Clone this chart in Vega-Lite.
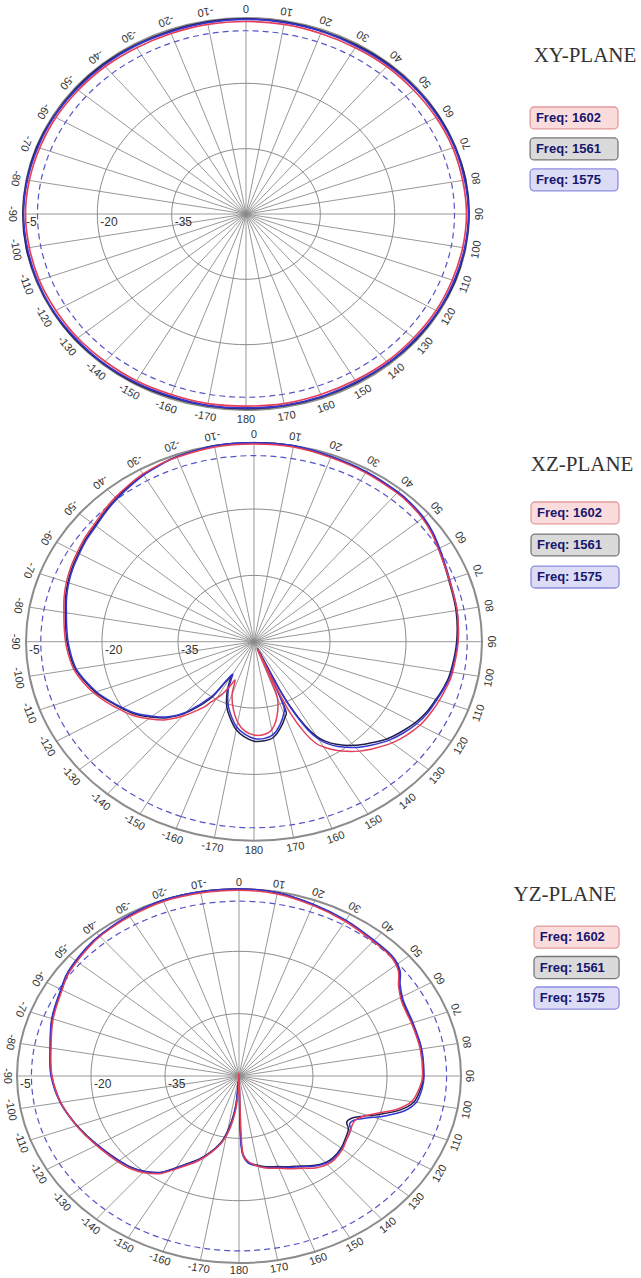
{
"$schema": "https://vega.github.io/schema/vega-lite/v6.json",
"padding": 0, "spacing": 0, "bounds": "flush", "background": "white",
"config": {"view": {"stroke": null}},
"datasets": {
"ang": [{"a":-170},{"a":-160},{"a":-150},{"a":-140},{"a":-130},{"a":-120},{"a":-110},{"a":-100},{"a":-90},{"a":-80},{"a":-70},{"a":-60},{"a":-50},{"a":-40},{"a":-30},{"a":-20},{"a":-10},{"a":0},{"a":10},{"a":20},{"a":30},{"a":40},{"a":50},{"a":60},{"a":70},{"a":80},{"a":90},{"a":100},{"a":110},{"a":120},{"a":130},{"a":140},{"a":150},{"a":160},{"a":170},{"a":180}],
"rl": [{"t":"-5","d":-5},{"t":"-20","d":-20},{"t":"-35","d":-35}],
"leg": [{"f":"1602","t":"Freq: 1602","k":0},{"f":"1561","t":"Freq: 1561","k":1},{"f":"1575","t":"Freq: 1575","k":2}],
"curves": [
{"p":"XY","f":"1561","a":-170,"g":-5.3},{"p":"XY","f":"1561","a":-160,"g":-5.3},{"p":"XY","f":"1561","a":-150,"g":-5.2},{"p":"XY","f":"1561","a":-140,"g":-5.2},{"p":"XY","f":"1561","a":-130,"g":-5.1},{"p":"XY","f":"1561","a":-120,"g":-5.1},{"p":"XY","f":"1561","a":-110,"g":-5.1},{"p":"XY","f":"1561","a":-100,"g":-5.0},{"p":"XY","f":"1561","a":-90,"g":-5.0},{"p":"XY","f":"1561","a":-80,"g":-5.1},{"p":"XY","f":"1561","a":-70,"g":-5.1},{"p":"XY","f":"1561","a":-60,"g":-5.2},{"p":"XY","f":"1561","a":-50,"g":-5.2},{"p":"XY","f":"1561","a":-40,"g":-5.2},{"p":"XY","f":"1561","a":-30,"g":-5.3},{"p":"XY","f":"1561","a":-20,"g":-5.3},{"p":"XY","f":"1561","a":-10,"g":-5.2},{"p":"XY","f":"1561","a":0,"g":-5.2},{"p":"XY","f":"1561","a":10,"g":-5.2},{"p":"XY","f":"1561","a":20,"g":-5.3},{"p":"XY","f":"1561","a":30,"g":-5.3},{"p":"XY","f":"1561","a":40,"g":-5.2},{"p":"XY","f":"1561","a":50,"g":-5.2},{"p":"XY","f":"1561","a":60,"g":-5.1},{"p":"XY","f":"1561","a":70,"g":-5.1},{"p":"XY","f":"1561","a":80,"g":-5.0},{"p":"XY","f":"1561","a":90,"g":-5.0},{"p":"XY","f":"1561","a":100,"g":-5.1},{"p":"XY","f":"1561","a":110,"g":-5.1},{"p":"XY","f":"1561","a":120,"g":-5.2},{"p":"XY","f":"1561","a":130,"g":-5.2},{"p":"XY","f":"1561","a":140,"g":-5.3},{"p":"XY","f":"1561","a":150,"g":-5.3},{"p":"XY","f":"1561","a":160,"g":-5.3},{"p":"XY","f":"1561","a":170,"g":-5.3},{"p":"XY","f":"1561","a":180,"g":-5.3},
{"p":"XY","f":"1575","a":-170,"g":-5.4},{"p":"XY","f":"1575","a":-160,"g":-5.5},{"p":"XY","f":"1575","a":-150,"g":-5.4},{"p":"XY","f":"1575","a":-140,"g":-5.3},{"p":"XY","f":"1575","a":-130,"g":-5.3},{"p":"XY","f":"1575","a":-120,"g":-5.2},{"p":"XY","f":"1575","a":-110,"g":-5.2},{"p":"XY","f":"1575","a":-100,"g":-5.2},{"p":"XY","f":"1575","a":-90,"g":-5.1},{"p":"XY","f":"1575","a":-80,"g":-5.2},{"p":"XY","f":"1575","a":-70,"g":-5.3},{"p":"XY","f":"1575","a":-60,"g":-5.3},{"p":"XY","f":"1575","a":-50,"g":-5.4},{"p":"XY","f":"1575","a":-40,"g":-5.4},{"p":"XY","f":"1575","a":-30,"g":-5.4},{"p":"XY","f":"1575","a":-20,"g":-5.5},{"p":"XY","f":"1575","a":-10,"g":-5.4},{"p":"XY","f":"1575","a":0,"g":-5.3},{"p":"XY","f":"1575","a":10,"g":-5.4},{"p":"XY","f":"1575","a":20,"g":-5.4},{"p":"XY","f":"1575","a":30,"g":-5.5},{"p":"XY","f":"1575","a":40,"g":-5.4},{"p":"XY","f":"1575","a":50,"g":-5.3},{"p":"XY","f":"1575","a":60,"g":-5.3},{"p":"XY","f":"1575","a":70,"g":-5.2},{"p":"XY","f":"1575","a":80,"g":-5.2},{"p":"XY","f":"1575","a":90,"g":-5.1},{"p":"XY","f":"1575","a":100,"g":-5.2},{"p":"XY","f":"1575","a":110,"g":-5.3},{"p":"XY","f":"1575","a":120,"g":-5.3},{"p":"XY","f":"1575","a":130,"g":-5.4},{"p":"XY","f":"1575","a":140,"g":-5.4},{"p":"XY","f":"1575","a":150,"g":-5.5},{"p":"XY","f":"1575","a":160,"g":-5.4},{"p":"XY","f":"1575","a":170,"g":-5.4},{"p":"XY","f":"1575","a":180,"g":-5.5},
{"p":"XY","f":"1602","a":-170,"g":-5.8},{"p":"XY","f":"1602","a":-160,"g":-5.9},{"p":"XY","f":"1602","a":-150,"g":-5.8},{"p":"XY","f":"1602","a":-140,"g":-5.8},{"p":"XY","f":"1602","a":-130,"g":-5.7},{"p":"XY","f":"1602","a":-120,"g":-5.7},{"p":"XY","f":"1602","a":-110,"g":-5.6},{"p":"XY","f":"1602","a":-100,"g":-5.6},{"p":"XY","f":"1602","a":-90,"g":-5.5},{"p":"XY","f":"1602","a":-80,"g":-5.6},{"p":"XY","f":"1602","a":-70,"g":-5.7},{"p":"XY","f":"1602","a":-60,"g":-5.7},{"p":"XY","f":"1602","a":-50,"g":-5.8},{"p":"XY","f":"1602","a":-40,"g":-5.8},{"p":"XY","f":"1602","a":-30,"g":-5.9},{"p":"XY","f":"1602","a":-20,"g":-5.9},{"p":"XY","f":"1602","a":-10,"g":-5.8},{"p":"XY","f":"1602","a":0,"g":-5.8},{"p":"XY","f":"1602","a":10,"g":-5.8},{"p":"XY","f":"1602","a":20,"g":-5.9},{"p":"XY","f":"1602","a":30,"g":-5.9},{"p":"XY","f":"1602","a":40,"g":-5.8},{"p":"XY","f":"1602","a":50,"g":-5.8},{"p":"XY","f":"1602","a":60,"g":-5.7},{"p":"XY","f":"1602","a":70,"g":-5.6},{"p":"XY","f":"1602","a":80,"g":-5.6},{"p":"XY","f":"1602","a":90,"g":-5.5},{"p":"XY","f":"1602","a":100,"g":-5.6},{"p":"XY","f":"1602","a":110,"g":-5.7},{"p":"XY","f":"1602","a":120,"g":-5.7},{"p":"XY","f":"1602","a":130,"g":-5.8},{"p":"XY","f":"1602","a":140,"g":-5.8},{"p":"XY","f":"1602","a":150,"g":-5.9},{"p":"XY","f":"1602","a":160,"g":-5.9},{"p":"XY","f":"1602","a":170,"g":-5.8},{"p":"XY","f":"1602","a":180,"g":-5.9},
{"p":"XZ","f":"1561","a":-175,"g":-28.4},{"p":"XZ","f":"1561","a":-170,"g":-29.8},{"p":"XZ","f":"1561","a":-165,"g":-32.0},{"p":"XZ","f":"1561","a":-160,"g":-34.3},{"p":"XZ","f":"1561","a":-155,"g":-37.4},{"p":"XZ","f":"1561","a":-152,"g":-39.7},{"p":"XZ","f":"1561","a":-150,"g":-41.0},{"p":"XZ","f":"1561","a":-148,"g":-38.8},{"p":"XZ","f":"1561","a":-146,"g":-34.3},{"p":"XZ","f":"1561","a":-140,"g":-28.9},{"p":"XZ","f":"1561","a":-135,"g":-25.7},{"p":"XZ","f":"1561","a":-130,"g":-23.5},{"p":"XZ","f":"1561","a":-125,"g":-21.4},{"p":"XZ","f":"1561","a":-120,"g":-19.9},{"p":"XZ","f":"1561","a":-115,"g":-18.3},{"p":"XZ","f":"1561","a":-110,"g":-16.7},{"p":"XZ","f":"1561","a":-105,"g":-15.4},{"p":"XZ","f":"1561","a":-100,"g":-14.2},{"p":"XZ","f":"1561","a":-95,"g":-13.6},{"p":"XZ","f":"1561","a":-90,"g":-13.1},{"p":"XZ","f":"1561","a":-85,"g":-12.7},{"p":"XZ","f":"1561","a":-80,"g":-12.2},{"p":"XZ","f":"1561","a":-75,"g":-11.5},{"p":"XZ","f":"1561","a":-70,"g":-10.9},{"p":"XZ","f":"1561","a":-65,"g":-10.4},{"p":"XZ","f":"1561","a":-60,"g":-10.0},{"p":"XZ","f":"1561","a":-55,"g":-9.5},{"p":"XZ","f":"1561","a":-50,"g":-9.1},{"p":"XZ","f":"1561","a":-45,"g":-8.4},{"p":"XZ","f":"1561","a":-40,"g":-7.7},{"p":"XZ","f":"1561","a":-35,"g":-7.0},{"p":"XZ","f":"1561","a":-30,"g":-6.4},{"p":"XZ","f":"1561","a":-25,"g":-5.9},{"p":"XZ","f":"1561","a":-20,"g":-5.5},{"p":"XZ","f":"1561","a":-10,"g":-5.0},{"p":"XZ","f":"1561","a":0,"g":-5.0},{"p":"XZ","f":"1561","a":10,"g":-5.0},{"p":"XZ","f":"1561","a":20,"g":-5.5},{"p":"XZ","f":"1561","a":30,"g":-5.7},{"p":"XZ","f":"1561","a":40,"g":-5.9},{"p":"XZ","f":"1561","a":45,"g":-6.1},{"p":"XZ","f":"1561","a":50,"g":-6.4},{"p":"XZ","f":"1561","a":55,"g":-7.0},{"p":"XZ","f":"1561","a":60,"g":-7.9},{"p":"XZ","f":"1561","a":65,"g":-8.6},{"p":"XZ","f":"1561","a":70,"g":-9.1},{"p":"XZ","f":"1561","a":80,"g":-9.5},{"p":"XZ","f":"1561","a":90,"g":-10.0},{"p":"XZ","f":"1561","a":100,"g":-10.6},{"p":"XZ","f":"1561","a":105,"g":-11.1},{"p":"XZ","f":"1561","a":110,"g":-11.8},{"p":"XZ","f":"1561","a":115,"g":-12.4},{"p":"XZ","f":"1561","a":120,"g":-13.3},{"p":"XZ","f":"1561","a":125,"g":-14.5},{"p":"XZ","f":"1561","a":130,"g":-15.8},{"p":"XZ","f":"1561","a":135,"g":-17.6},{"p":"XZ","f":"1561","a":140,"g":-19.4},{"p":"XZ","f":"1561","a":145,"g":-21.7},{"p":"XZ","f":"1561","a":148,"g":-23.5},{"p":"XZ","f":"1561","a":150,"g":-25.3},{"p":"XZ","f":"1561","a":152,"g":-28.4},{"p":"XZ","f":"1561","a":154,"g":-33.8},{"p":"XZ","f":"1561","a":155,"g":-38.8},{"p":"XZ","f":"1561","a":156,"g":-48.2},{"p":"XZ","f":"1561","a":157,"g":-40.1},{"p":"XZ","f":"1561","a":158,"g":-33.4},{"p":"XZ","f":"1561","a":160,"g":-32.0},{"p":"XZ","f":"1561","a":165,"g":-29.8},{"p":"XZ","f":"1561","a":170,"g":-28.0},{"p":"XZ","f":"1561","a":175,"g":-27.5},{"p":"XZ","f":"1561","a":180,"g":-27.5},
{"p":"XZ","f":"1575","a":-175,"g":-29.0},{"p":"XZ","f":"1575","a":-170,"g":-30.4},{"p":"XZ","f":"1575","a":-165,"g":-32.6},{"p":"XZ","f":"1575","a":-160,"g":-35.0},{"p":"XZ","f":"1575","a":-155,"g":-38.0},{"p":"XZ","f":"1575","a":-152,"g":-40.5},{"p":"XZ","f":"1575","a":-150,"g":-41.5},{"p":"XZ","f":"1575","a":-148,"g":-39.5},{"p":"XZ","f":"1575","a":-146,"g":-35.0},{"p":"XZ","f":"1575","a":-140,"g":-29.3},{"p":"XZ","f":"1575","a":-135,"g":-26.0},{"p":"XZ","f":"1575","a":-130,"g":-23.8},{"p":"XZ","f":"1575","a":-125,"g":-21.7},{"p":"XZ","f":"1575","a":-120,"g":-20.1},{"p":"XZ","f":"1575","a":-115,"g":-18.5},{"p":"XZ","f":"1575","a":-110,"g":-16.9},{"p":"XZ","f":"1575","a":-105,"g":-15.6},{"p":"XZ","f":"1575","a":-100,"g":-14.4},{"p":"XZ","f":"1575","a":-95,"g":-13.8},{"p":"XZ","f":"1575","a":-90,"g":-13.3},{"p":"XZ","f":"1575","a":-85,"g":-12.9},{"p":"XZ","f":"1575","a":-80,"g":-12.4},{"p":"XZ","f":"1575","a":-75,"g":-11.7},{"p":"XZ","f":"1575","a":-70,"g":-11.1},{"p":"XZ","f":"1575","a":-65,"g":-10.6},{"p":"XZ","f":"1575","a":-60,"g":-10.2},{"p":"XZ","f":"1575","a":-55,"g":-9.7},{"p":"XZ","f":"1575","a":-50,"g":-9.3},{"p":"XZ","f":"1575","a":-45,"g":-8.6},{"p":"XZ","f":"1575","a":-40,"g":-7.9},{"p":"XZ","f":"1575","a":-35,"g":-7.2},{"p":"XZ","f":"1575","a":-30,"g":-6.5},{"p":"XZ","f":"1575","a":-25,"g":-6.0},{"p":"XZ","f":"1575","a":-20,"g":-5.5},{"p":"XZ","f":"1575","a":-10,"g":-5.0},{"p":"XZ","f":"1575","a":0,"g":-5.0},{"p":"XZ","f":"1575","a":10,"g":-5.0},{"p":"XZ","f":"1575","a":20,"g":-5.4},{"p":"XZ","f":"1575","a":30,"g":-5.6},{"p":"XZ","f":"1575","a":40,"g":-5.8},{"p":"XZ","f":"1575","a":45,"g":-6.0},{"p":"XZ","f":"1575","a":50,"g":-6.3},{"p":"XZ","f":"1575","a":55,"g":-6.9},{"p":"XZ","f":"1575","a":60,"g":-7.7},{"p":"XZ","f":"1575","a":65,"g":-8.4},{"p":"XZ","f":"1575","a":70,"g":-8.9},{"p":"XZ","f":"1575","a":80,"g":-9.3},{"p":"XZ","f":"1575","a":90,"g":-9.8},{"p":"XZ","f":"1575","a":100,"g":-10.4},{"p":"XZ","f":"1575","a":105,"g":-10.9},{"p":"XZ","f":"1575","a":110,"g":-11.6},{"p":"XZ","f":"1575","a":115,"g":-12.1},{"p":"XZ","f":"1575","a":120,"g":-12.9},{"p":"XZ","f":"1575","a":125,"g":-14.0},{"p":"XZ","f":"1575","a":130,"g":-15.3},{"p":"XZ","f":"1575","a":135,"g":-17.0},{"p":"XZ","f":"1575","a":140,"g":-18.8},{"p":"XZ","f":"1575","a":145,"g":-21.1},{"p":"XZ","f":"1575","a":148,"g":-22.9},{"p":"XZ","f":"1575","a":150,"g":-24.6},{"p":"XZ","f":"1575","a":152,"g":-27.6},{"p":"XZ","f":"1575","a":154,"g":-33.0},{"p":"XZ","f":"1575","a":155,"g":-38.0},{"p":"XZ","f":"1575","a":156,"g":-47.5},{"p":"XZ","f":"1575","a":157,"g":-41.0},{"p":"XZ","f":"1575","a":158,"g":-34.5},{"p":"XZ","f":"1575","a":160,"g":-32.8},{"p":"XZ","f":"1575","a":165,"g":-30.4},{"p":"XZ","f":"1575","a":170,"g":-28.6},{"p":"XZ","f":"1575","a":175,"g":-28.0},{"p":"XZ","f":"1575","a":180,"g":-28.1},
{"p":"XZ","f":"1602","a":-175,"g":-29.7},{"p":"XZ","f":"1602","a":-170,"g":-31.5},{"p":"XZ","f":"1602","a":-165,"g":-34.2},{"p":"XZ","f":"1602","a":-160,"g":-37.4},{"p":"XZ","f":"1602","a":-157,"g":-40.5},{"p":"XZ","f":"1602","a":-155,"g":-39.2},{"p":"XZ","f":"1602","a":-152,"g":-36.5},{"p":"XZ","f":"1602","a":-148,"g":-33.8},{"p":"XZ","f":"1602","a":-146,"g":-32.0},{"p":"XZ","f":"1602","a":-140,"g":-28.0},{"p":"XZ","f":"1602","a":-135,"g":-25.0},{"p":"XZ","f":"1602","a":-130,"g":-22.9},{"p":"XZ","f":"1602","a":-125,"g":-20.9},{"p":"XZ","f":"1602","a":-120,"g":-19.4},{"p":"XZ","f":"1602","a":-115,"g":-17.8},{"p":"XZ","f":"1602","a":-110,"g":-16.3},{"p":"XZ","f":"1602","a":-105,"g":-15.0},{"p":"XZ","f":"1602","a":-100,"g":-13.9},{"p":"XZ","f":"1602","a":-95,"g":-13.3},{"p":"XZ","f":"1602","a":-90,"g":-12.8},{"p":"XZ","f":"1602","a":-85,"g":-12.4},{"p":"XZ","f":"1602","a":-80,"g":-11.9},{"p":"XZ","f":"1602","a":-75,"g":-11.2},{"p":"XZ","f":"1602","a":-70,"g":-10.6},{"p":"XZ","f":"1602","a":-65,"g":-10.1},{"p":"XZ","f":"1602","a":-60,"g":-9.7},{"p":"XZ","f":"1602","a":-55,"g":-9.2},{"p":"XZ","f":"1602","a":-50,"g":-8.8},{"p":"XZ","f":"1602","a":-45,"g":-8.1},{"p":"XZ","f":"1602","a":-40,"g":-7.4},{"p":"XZ","f":"1602","a":-35,"g":-6.8},{"p":"XZ","f":"1602","a":-30,"g":-6.2},{"p":"XZ","f":"1602","a":-25,"g":-5.8},{"p":"XZ","f":"1602","a":-20,"g":-5.6},{"p":"XZ","f":"1602","a":-10,"g":-5.3},{"p":"XZ","f":"1602","a":0,"g":-5.3},{"p":"XZ","f":"1602","a":10,"g":-5.3},{"p":"XZ","f":"1602","a":20,"g":-5.7},{"p":"XZ","f":"1602","a":30,"g":-5.9},{"p":"XZ","f":"1602","a":40,"g":-6.1},{"p":"XZ","f":"1602","a":45,"g":-6.3},{"p":"XZ","f":"1602","a":50,"g":-6.6},{"p":"XZ","f":"1602","a":55,"g":-7.2},{"p":"XZ","f":"1602","a":60,"g":-8.0},{"p":"XZ","f":"1602","a":65,"g":-8.6},{"p":"XZ","f":"1602","a":70,"g":-9.0},{"p":"XZ","f":"1602","a":80,"g":-9.3},{"p":"XZ","f":"1602","a":90,"g":-9.7},{"p":"XZ","f":"1602","a":100,"g":-10.2},{"p":"XZ","f":"1602","a":105,"g":-10.6},{"p":"XZ","f":"1602","a":110,"g":-11.1},{"p":"XZ","f":"1602","a":115,"g":-11.6},{"p":"XZ","f":"1602","a":120,"g":-12.2},{"p":"XZ","f":"1602","a":125,"g":-13.2},{"p":"XZ","f":"1602","a":130,"g":-14.4},{"p":"XZ","f":"1602","a":135,"g":-16.0},{"p":"XZ","f":"1602","a":140,"g":-17.7},{"p":"XZ","f":"1602","a":145,"g":-19.8},{"p":"XZ","f":"1602","a":148,"g":-21.3},{"p":"XZ","f":"1602","a":150,"g":-22.5},{"p":"XZ","f":"1602","a":152,"g":-24.0},{"p":"XZ","f":"1602","a":154,"g":-27.0},{"p":"XZ","f":"1602","a":156,"g":-32.0},{"p":"XZ","f":"1602","a":157,"g":-38.8},{"p":"XZ","f":"1602","a":158,"g":-48.2},{"p":"XZ","f":"1602","a":159,"g":-41.0},{"p":"XZ","f":"1602","a":160,"g":-36.5},{"p":"XZ","f":"1602","a":165,"g":-32.5},{"p":"XZ","f":"1602","a":170,"g":-29.8},{"p":"XZ","f":"1602","a":175,"g":-28.9},{"p":"XZ","f":"1602","a":180,"g":-28.9},
{"p":"YZ","f":"1561","a":-175,"g":-43.3},{"p":"YZ","f":"1561","a":-172,"g":-38.8},{"p":"YZ","f":"1561","a":-168,"g":-34.3},{"p":"YZ","f":"1561","a":-163,"g":-31.1},{"p":"YZ","f":"1561","a":-158,"g":-28.4},{"p":"YZ","f":"1561","a":-153,"g":-26.2},{"p":"YZ","f":"1561","a":-146,"g":-22.1},{"p":"YZ","f":"1561","a":-140,"g":-20.1},{"p":"YZ","f":"1561","a":-135,"g":-19.0},{"p":"YZ","f":"1561","a":-130,"g":-18.3},{"p":"YZ","f":"1561","a":-122,"g":-17.2},{"p":"YZ","f":"1561","a":-115,"g":-16.0},{"p":"YZ","f":"1561","a":-109,"g":-14.9},{"p":"YZ","f":"1561","a":-100,"g":-13.3},{"p":"YZ","f":"1561","a":-90,"g":-12.0},{"p":"YZ","f":"1561","a":-81,"g":-11.3},{"p":"YZ","f":"1561","a":-70,"g":-9.7},{"p":"YZ","f":"1561","a":-60,"g":-8.4},{"p":"YZ","f":"1561","a":-54,"g":-7.3},{"p":"YZ","f":"1561","a":-45,"g":-6.4},{"p":"YZ","f":"1561","a":-39,"g":-5.9},{"p":"YZ","f":"1561","a":-30,"g":-5.5},{"p":"YZ","f":"1561","a":-20,"g":-5.0},{"p":"YZ","f":"1561","a":-10,"g":-5.0},{"p":"YZ","f":"1561","a":0,"g":-5.0},{"p":"YZ","f":"1561","a":10,"g":-5.2},{"p":"YZ","f":"1561","a":20,"g":-6.1},{"p":"YZ","f":"1561","a":30,"g":-6.8},{"p":"YZ","f":"1561","a":40,"g":-7.5},{"p":"YZ","f":"1561","a":47,"g":-7.7},{"p":"YZ","f":"1561","a":52,"g":-8.8},{"p":"YZ","f":"1561","a":56,"g":-10.9},{"p":"YZ","f":"1561","a":61,"g":-12.2},{"p":"YZ","f":"1561","a":66,"g":-12.6},{"p":"YZ","f":"1561","a":71,"g":-12.6},{"p":"YZ","f":"1561","a":80,"g":-12.5},{"p":"YZ","f":"1561","a":90,"g":-12.6},{"p":"YZ","f":"1561","a":95,"g":-13.1},{"p":"YZ","f":"1561","a":100,"g":-14.0},{"p":"YZ","f":"1561","a":104,"g":-16.3},{"p":"YZ","f":"1561","a":108,"g":-20.1},{"p":"YZ","f":"1561","a":111,"g":-23.0},{"p":"YZ","f":"1561","a":114,"g":-25.0},{"p":"YZ","f":"1561","a":117,"g":-25.5},{"p":"YZ","f":"1561","a":120,"g":-24.4},{"p":"YZ","f":"1561","a":125,"g":-23.7},{"p":"YZ","f":"1561","a":130,"g":-23.0},{"p":"YZ","f":"1561","a":136,"g":-22.6},{"p":"YZ","f":"1561","a":140,"g":-22.8},{"p":"YZ","f":"1561","a":145,"g":-23.7},{"p":"YZ","f":"1561","a":150,"g":-25.0},{"p":"YZ","f":"1561","a":155,"g":-25.9},{"p":"YZ","f":"1561","a":160,"g":-26.8},{"p":"YZ","f":"1561","a":166,"g":-27.5},{"p":"YZ","f":"1561","a":170,"g":-28.2},{"p":"YZ","f":"1561","a":175,"g":-29.3},{"p":"YZ","f":"1561","a":178,"g":-32.0},{"p":"YZ","f":"1561","a":179,"g":-38.8},{"p":"YZ","f":"1561","a":180,"g":-49.1},
{"p":"YZ","f":"1575","a":-175,"g":-42.5},{"p":"YZ","f":"1575","a":-172,"g":-38.3},{"p":"YZ","f":"1575","a":-168,"g":-34.0},{"p":"YZ","f":"1575","a":-163,"g":-30.9},{"p":"YZ","f":"1575","a":-158,"g":-28.2},{"p":"YZ","f":"1575","a":-153,"g":-26.0},{"p":"YZ","f":"1575","a":-146,"g":-22.0},{"p":"YZ","f":"1575","a":-140,"g":-20.0},{"p":"YZ","f":"1575","a":-135,"g":-18.9},{"p":"YZ","f":"1575","a":-130,"g":-18.2},{"p":"YZ","f":"1575","a":-122,"g":-17.1},{"p":"YZ","f":"1575","a":-115,"g":-15.9},{"p":"YZ","f":"1575","a":-109,"g":-14.8},{"p":"YZ","f":"1575","a":-100,"g":-13.2},{"p":"YZ","f":"1575","a":-90,"g":-11.9},{"p":"YZ","f":"1575","a":-81,"g":-11.2},{"p":"YZ","f":"1575","a":-70,"g":-9.6},{"p":"YZ","f":"1575","a":-60,"g":-8.3},{"p":"YZ","f":"1575","a":-54,"g":-7.2},{"p":"YZ","f":"1575","a":-45,"g":-6.3},{"p":"YZ","f":"1575","a":-39,"g":-5.9},{"p":"YZ","f":"1575","a":-30,"g":-5.4},{"p":"YZ","f":"1575","a":-20,"g":-5.0},{"p":"YZ","f":"1575","a":-10,"g":-5.0},{"p":"YZ","f":"1575","a":0,"g":-5.0},{"p":"YZ","f":"1575","a":10,"g":-5.2},{"p":"YZ","f":"1575","a":20,"g":-6.0},{"p":"YZ","f":"1575","a":30,"g":-6.7},{"p":"YZ","f":"1575","a":40,"g":-7.4},{"p":"YZ","f":"1575","a":47,"g":-7.6},{"p":"YZ","f":"1575","a":52,"g":-8.6},{"p":"YZ","f":"1575","a":56,"g":-10.6},{"p":"YZ","f":"1575","a":61,"g":-12.0},{"p":"YZ","f":"1575","a":66,"g":-12.4},{"p":"YZ","f":"1575","a":71,"g":-12.5},{"p":"YZ","f":"1575","a":80,"g":-12.4},{"p":"YZ","f":"1575","a":90,"g":-12.5},{"p":"YZ","f":"1575","a":95,"g":-12.8},{"p":"YZ","f":"1575","a":100,"g":-13.5},{"p":"YZ","f":"1575","a":104,"g":-15.4},{"p":"YZ","f":"1575","a":108,"g":-18.9},{"p":"YZ","f":"1575","a":111,"g":-21.9},{"p":"YZ","f":"1575","a":114,"g":-24.1},{"p":"YZ","f":"1575","a":117,"g":-24.8},{"p":"YZ","f":"1575","a":120,"g":-23.9},{"p":"YZ","f":"1575","a":125,"g":-23.4},{"p":"YZ","f":"1575","a":130,"g":-22.8},{"p":"YZ","f":"1575","a":136,"g":-22.4},{"p":"YZ","f":"1575","a":140,"g":-22.6},{"p":"YZ","f":"1575","a":145,"g":-23.5},{"p":"YZ","f":"1575","a":150,"g":-24.8},{"p":"YZ","f":"1575","a":155,"g":-25.7},{"p":"YZ","f":"1575","a":160,"g":-26.6},{"p":"YZ","f":"1575","a":166,"g":-27.3},{"p":"YZ","f":"1575","a":170,"g":-28.0},{"p":"YZ","f":"1575","a":175,"g":-29.0},{"p":"YZ","f":"1575","a":178,"g":-31.5},{"p":"YZ","f":"1575","a":179,"g":-37.0},{"p":"YZ","f":"1575","a":180,"g":-48.5},
{"p":"YZ","f":"1602","a":-178,"g":-46.4},{"p":"YZ","f":"1602","a":-175,"g":-41.5},{"p":"YZ","f":"1602","a":-172,"g":-37.5},{"p":"YZ","f":"1602","a":-168,"g":-33.8},{"p":"YZ","f":"1602","a":-163,"g":-30.8},{"p":"YZ","f":"1602","a":-158,"g":-28.0},{"p":"YZ","f":"1602","a":-153,"g":-25.7},{"p":"YZ","f":"1602","a":-146,"g":-21.7},{"p":"YZ","f":"1602","a":-140,"g":-19.7},{"p":"YZ","f":"1602","a":-135,"g":-18.6},{"p":"YZ","f":"1602","a":-130,"g":-17.9},{"p":"YZ","f":"1602","a":-122,"g":-16.9},{"p":"YZ","f":"1602","a":-115,"g":-15.8},{"p":"YZ","f":"1602","a":-109,"g":-14.8},{"p":"YZ","f":"1602","a":-100,"g":-13.3},{"p":"YZ","f":"1602","a":-90,"g":-12.1},{"p":"YZ","f":"1602","a":-81,"g":-11.4},{"p":"YZ","f":"1602","a":-70,"g":-9.9},{"p":"YZ","f":"1602","a":-60,"g":-8.6},{"p":"YZ","f":"1602","a":-54,"g":-7.5},{"p":"YZ","f":"1602","a":-45,"g":-6.6},{"p":"YZ","f":"1602","a":-39,"g":-6.1},{"p":"YZ","f":"1602","a":-30,"g":-5.7},{"p":"YZ","f":"1602","a":-20,"g":-5.3},{"p":"YZ","f":"1602","a":-10,"g":-5.3},{"p":"YZ","f":"1602","a":0,"g":-5.3},{"p":"YZ","f":"1602","a":10,"g":-5.5},{"p":"YZ","f":"1602","a":20,"g":-6.3},{"p":"YZ","f":"1602","a":30,"g":-7.0},{"p":"YZ","f":"1602","a":40,"g":-7.7},{"p":"YZ","f":"1602","a":47,"g":-7.9},{"p":"YZ","f":"1602","a":52,"g":-9.0},{"p":"YZ","f":"1602","a":56,"g":-11.0},{"p":"YZ","f":"1602","a":61,"g":-12.4},{"p":"YZ","f":"1602","a":66,"g":-12.8},{"p":"YZ","f":"1602","a":71,"g":-12.8},{"p":"YZ","f":"1602","a":80,"g":-12.7},{"p":"YZ","f":"1602","a":90,"g":-12.8},{"p":"YZ","f":"1602","a":95,"g":-13.4},{"p":"YZ","f":"1602","a":100,"g":-14.5},{"p":"YZ","f":"1602","a":104,"g":-17.0},{"p":"YZ","f":"1602","a":108,"g":-20.8},{"p":"YZ","f":"1602","a":111,"g":-23.0},{"p":"YZ","f":"1602","a":114,"g":-24.1},{"p":"YZ","f":"1602","a":117,"g":-24.2},{"p":"YZ","f":"1602","a":120,"g":-23.9},{"p":"YZ","f":"1602","a":125,"g":-23.4},{"p":"YZ","f":"1602","a":130,"g":-22.6},{"p":"YZ","f":"1602","a":136,"g":-22.1},{"p":"YZ","f":"1602","a":140,"g":-22.2},{"p":"YZ","f":"1602","a":145,"g":-23.0},{"p":"YZ","f":"1602","a":150,"g":-24.4},{"p":"YZ","f":"1602","a":155,"g":-25.4},{"p":"YZ","f":"1602","a":160,"g":-26.4},{"p":"YZ","f":"1602","a":166,"g":-27.2},{"p":"YZ","f":"1602","a":170,"g":-28.0},{"p":"YZ","f":"1602","a":175,"g":-29.5},{"p":"YZ","f":"1602","a":178,"g":-32.9},{"p":"YZ","f":"1602","a":180,"g":-50.0}
]
},
"vconcat": [
{
"width": 641, "height": 428,
"encoding": {
 "x": {"field": "x", "type": "quantitative", "scale": {"domain": [-1.1031, 1.7713], "nice": false, "zero": false}, "axis": null},
 "y": {"field": "y", "type": "quantitative", "scale": {"domain": [-1.0918, 1.0918], "nice": false, "zero": false}, "axis": null}
},
"layer": [
 {"data": {"name": "ang"}, "transform": [{"calculate": "0", "as": "x"}, {"calculate": "0", "as": "y"}, {"calculate": "sin(datum.a*PI/180)", "as": "x2"}, {"calculate": "cos(datum.a*PI/180)", "as": "y2"}], "mark": {"type": "rule", "color": "#8c8c8c", "strokeWidth": 0.9}, "encoding": {"x2": {"field": "x2"}, "y2": {"field": "y2"}}},
 {"data": {"name": "ang"}, "transform": [{"calculate": "0.3333*sin(datum.a*PI/180)", "as": "x"}, {"calculate": "0.3333*cos(datum.a*PI/180)", "as": "y"}], "mark": {"type": "line", "interpolate": "cardinal-closed", "color": "#8c8c8c", "strokeWidth": 1}, "encoding": {"order": {"field": "a", "type": "quantitative"}}},
 {"data": {"name": "ang"}, "transform": [{"calculate": "0.6667*sin(datum.a*PI/180)", "as": "x"}, {"calculate": "0.6667*cos(datum.a*PI/180)", "as": "y"}], "mark": {"type": "line", "interpolate": "cardinal-closed", "color": "#8c8c8c", "strokeWidth": 1}, "encoding": {"order": {"field": "a", "type": "quantitative"}}},
 {"data": {"name": "ang"}, "transform": [{"calculate": "0.935*sin(datum.a*PI/180)", "as": "x"}, {"calculate": "0.935*cos(datum.a*PI/180)", "as": "y"}], "mark": {"type": "line", "interpolate": "cardinal-closed", "color": "#5454c8", "strokeWidth": 1.2, "strokeDash": [6, 4]}, "encoding": {"order": {"field": "a", "type": "quantitative"}}},
 {"data": {"name": "ang"}, "transform": [{"calculate": "sin(datum.a*PI/180)", "as": "x"}, {"calculate": "cos(datum.a*PI/180)", "as": "y"}], "mark": {"type": "line", "interpolate": "cardinal-closed", "color": "#8c8c8c", "strokeWidth": 2}, "encoding": {"order": {"field": "a", "type": "quantitative"}}},
 {"data": {"name": "rl"}, "transform": [{"calculate": "-(datum.d+50)/45", "as": "x"}, {"calculate": "0", "as": "y"}], "mark": {"type": "text", "align": "left", "baseline": "top", "dx": 3, "dy": 3, "fontSize": 12, "font": "Liberation Sans", "color": "#333333"}, "encoding": {"text": {"field": "t"}}},
 {"data": {"name": "ang"}, "transform": [{"calculate": "1.05*sin(datum.a*PI/180)", "as": "x"}, {"calculate": "1.05*cos(datum.a*PI/180)", "as": "y"}, {"calculate": "(datum.a+180)%360", "as": "rot"}], "mark": {"type": "text", "fontSize": 11, "font": "Liberation Sans", "color": "#333333", "align": "center", "baseline": "middle"}, "encoding": {"text": {"field": "a", "type": "nominal"}, "angle": {"field": "rot", "type": "quantitative", "scale": null}}},
 {"data": {"name": "curves"}, "transform": [{"filter": "datum.p=='XY'"}, {"calculate": "max(0,(datum.g+50)/45)", "as": "r"}, {"calculate": "datum.r*sin(datum.a*PI/180)", "as": "x"}, {"calculate": "datum.r*cos(datum.a*PI/180)", "as": "y"}], "mark": {"type": "line", "interpolate": "cardinal-closed", "strokeWidth": 1.7}, "encoding": {"color": {"field": "f", "type": "nominal", "scale": {"domain": ["1602", "1575", "1561"], "range": ["#e4405a", "#3636d2", "#22204e"]}, "legend": null}, "order": {"field": "a", "type": "quantitative"}}},
 {"data": {"values": [{"t": "XY-PLANE"}]}, "transform": [{"calculate": "1.52", "as": "x"}, {"calculate": "0.806", "as": "y"}], "mark": {"type": "text", "font": "Liberation Serif", "fontSize": 21, "color": "#333333", "align": "center", "baseline": "middle"}, "encoding": {"text": {"field": "t"}}},
 {"data": {"name": "leg"}, "transform": [{"calculate": "1.274", "as": "x"}, {"calculate": "1.668", "as": "x2"}, {"calculate": "0.546-0.158*datum.k", "as": "y"}, {"calculate": "0.434-0.158*datum.k", "as": "y2"}], "mark": {"type": "rect", "cornerRadius": 4, "strokeWidth": 1.3}, "encoding": {"x2": {"field": "x2"}, "y2": {"field": "y2"}, "fill": {"field": "f", "type": "nominal", "scale": {"domain": ["1602", "1561", "1575"], "range": ["#fbdcdc", "#dadada", "#dcdcf6"]}, "legend": null}, "stroke": {"field": "f", "type": "nominal", "scale": {"domain": ["1602", "1561", "1575"], "range": ["#e49a9a", "#777777", "#8c8ce0"]}, "legend": null}}},
 {"data": {"name": "leg"}, "transform": [{"calculate": "1.300", "as": "x"}, {"calculate": "0.490-0.158*datum.k", "as": "y"}], "mark": {"type": "text", "align": "left", "baseline": "middle", "font": "Liberation Sans", "fontWeight": "bold", "fontSize": 13, "color": "#16166e"}, "encoding": {"text": {"field": "t"}}}
]
},
{
"width": 641, "height": 430,
"encoding": {
 "x": {"field": "x", "type": "quantitative", "scale": {"domain": [-1.1140, 1.6974], "nice": false, "zero": false}, "axis": null},
 "y": {"field": "y", "type": "quantitative", "scale": {"domain": [-1.0869, 1.0739], "nice": false, "zero": false}, "axis": null}
},
"layer": [
 {"data": {"name": "ang"}, "transform": [{"calculate": "0", "as": "x"}, {"calculate": "0", "as": "y"}, {"calculate": "sin(datum.a*PI/180)", "as": "x2"}, {"calculate": "cos(datum.a*PI/180)", "as": "y2"}], "mark": {"type": "rule", "color": "#8c8c8c", "strokeWidth": 0.9}, "encoding": {"x2": {"field": "x2"}, "y2": {"field": "y2"}}},
 {"data": {"name": "ang"}, "transform": [{"calculate": "0.3333*sin(datum.a*PI/180)", "as": "x"}, {"calculate": "0.3333*cos(datum.a*PI/180)", "as": "y"}], "mark": {"type": "line", "interpolate": "cardinal-closed", "color": "#8c8c8c", "strokeWidth": 1}, "encoding": {"order": {"field": "a", "type": "quantitative"}}},
 {"data": {"name": "ang"}, "transform": [{"calculate": "0.6667*sin(datum.a*PI/180)", "as": "x"}, {"calculate": "0.6667*cos(datum.a*PI/180)", "as": "y"}], "mark": {"type": "line", "interpolate": "cardinal-closed", "color": "#8c8c8c", "strokeWidth": 1}, "encoding": {"order": {"field": "a", "type": "quantitative"}}},
 {"data": {"name": "ang"}, "transform": [{"calculate": "0.935*sin(datum.a*PI/180)", "as": "x"}, {"calculate": "0.935*cos(datum.a*PI/180)", "as": "y"}], "mark": {"type": "line", "interpolate": "cardinal-closed", "color": "#5454c8", "strokeWidth": 1.2, "strokeDash": [6, 4]}, "encoding": {"order": {"field": "a", "type": "quantitative"}}},
 {"data": {"name": "ang"}, "transform": [{"calculate": "sin(datum.a*PI/180)", "as": "x"}, {"calculate": "cos(datum.a*PI/180)", "as": "y"}], "mark": {"type": "line", "interpolate": "cardinal-closed", "color": "#8c8c8c", "strokeWidth": 2}, "encoding": {"order": {"field": "a", "type": "quantitative"}}},
 {"data": {"name": "rl"}, "transform": [{"calculate": "-(datum.d+50)/45", "as": "x"}, {"calculate": "0", "as": "y"}], "mark": {"type": "text", "align": "left", "baseline": "top", "dx": 3, "dy": 3, "fontSize": 12, "font": "Liberation Sans", "color": "#333333"}, "encoding": {"text": {"field": "t"}}},
 {"data": {"name": "ang"}, "transform": [{"calculate": "1.05*sin(datum.a*PI/180)", "as": "x"}, {"calculate": "1.05*cos(datum.a*PI/180)", "as": "y"}, {"calculate": "(datum.a+180)%360", "as": "rot"}], "mark": {"type": "text", "fontSize": 11, "font": "Liberation Sans", "color": "#333333", "align": "center", "baseline": "middle"}, "encoding": {"text": {"field": "a", "type": "nominal"}, "angle": {"field": "rot", "type": "quantitative", "scale": null}}},
 {"data": {"name": "curves"}, "transform": [{"filter": "datum.p=='XZ'"}, {"calculate": "max(0,(datum.g+50)/45)", "as": "r"}, {"calculate": "datum.r*sin(datum.a*PI/180)", "as": "x"}, {"calculate": "datum.r*cos(datum.a*PI/180)", "as": "y"}], "mark": {"type": "line", "interpolate": "cardinal-closed", "strokeWidth": 1.5}, "encoding": {"color": {"field": "f", "type": "nominal", "scale": {"domain": ["1602", "1575", "1561"], "range": ["#e4405a", "#3636d2", "#22204e"]}, "legend": null}, "order": {"field": "a", "type": "quantitative"}}},
 {"data": {"values": [{"t": "XZ-PLANE"}]}, "transform": [{"calculate": "1.439", "as": "x"}, {"calculate": "0.888", "as": "y"}], "mark": {"type": "text", "font": "Liberation Serif", "fontSize": 21, "color": "#333333", "align": "center", "baseline": "middle"}, "encoding": {"text": {"field": "t"}}},
 {"data": {"name": "leg"}, "transform": [{"calculate": "1.215", "as": "x"}, {"calculate": "1.601", "as": "x2"}, {"calculate": "0.702-0.161*datum.k", "as": "y"}, {"calculate": "0.592-0.161*datum.k", "as": "y2"}], "mark": {"type": "rect", "cornerRadius": 4, "strokeWidth": 1.3}, "encoding": {"x2": {"field": "x2"}, "y2": {"field": "y2"}, "fill": {"field": "f", "type": "nominal", "scale": {"domain": ["1602", "1561", "1575"], "range": ["#fbdcdc", "#dadada", "#dcdcf6"]}, "legend": null}, "stroke": {"field": "f", "type": "nominal", "scale": {"domain": ["1602", "1561", "1575"], "range": ["#e49a9a", "#777777", "#8c8ce0"]}, "legend": null}}},
 {"data": {"name": "leg"}, "transform": [{"calculate": "1.241", "as": "x"}, {"calculate": "0.647-0.161*datum.k", "as": "y"}], "mark": {"type": "text", "align": "left", "baseline": "middle", "font": "Liberation Sans", "fontWeight": "bold", "fontSize": 13, "color": "#16166e"}, "encoding": {"text": {"field": "t"}}}
]
},
{
"width": 641, "height": 420,
"encoding": {
 "x": {"field": "x", "type": "quantitative", "scale": {"domain": [-1.0766, 1.8108], "nice": false, "zero": false}, "axis": null},
 "y": {"field": "y", "type": "quantitative", "scale": {"domain": [-1.0802, 1.1658], "nice": false, "zero": false}, "axis": null}
},
"layer": [
 {"data": {"name": "ang"}, "transform": [{"calculate": "0", "as": "x"}, {"calculate": "0", "as": "y"}, {"calculate": "sin(datum.a*PI/180)", "as": "x2"}, {"calculate": "cos(datum.a*PI/180)", "as": "y2"}], "mark": {"type": "rule", "color": "#8c8c8c", "strokeWidth": 0.9}, "encoding": {"x2": {"field": "x2"}, "y2": {"field": "y2"}}},
 {"data": {"name": "ang"}, "transform": [{"calculate": "0.3333*sin(datum.a*PI/180)", "as": "x"}, {"calculate": "0.3333*cos(datum.a*PI/180)", "as": "y"}], "mark": {"type": "line", "interpolate": "cardinal-closed", "color": "#8c8c8c", "strokeWidth": 1}, "encoding": {"order": {"field": "a", "type": "quantitative"}}},
 {"data": {"name": "ang"}, "transform": [{"calculate": "0.6667*sin(datum.a*PI/180)", "as": "x"}, {"calculate": "0.6667*cos(datum.a*PI/180)", "as": "y"}], "mark": {"type": "line", "interpolate": "cardinal-closed", "color": "#8c8c8c", "strokeWidth": 1}, "encoding": {"order": {"field": "a", "type": "quantitative"}}},
 {"data": {"name": "ang"}, "transform": [{"calculate": "0.935*sin(datum.a*PI/180)", "as": "x"}, {"calculate": "0.935*cos(datum.a*PI/180)", "as": "y"}], "mark": {"type": "line", "interpolate": "cardinal-closed", "color": "#5454c8", "strokeWidth": 1.2, "strokeDash": [6, 4]}, "encoding": {"order": {"field": "a", "type": "quantitative"}}},
 {"data": {"name": "ang"}, "transform": [{"calculate": "sin(datum.a*PI/180)", "as": "x"}, {"calculate": "cos(datum.a*PI/180)", "as": "y"}], "mark": {"type": "line", "interpolate": "cardinal-closed", "color": "#8c8c8c", "strokeWidth": 2}, "encoding": {"order": {"field": "a", "type": "quantitative"}}},
 {"data": {"name": "rl"}, "transform": [{"calculate": "-(datum.d+50)/45", "as": "x"}, {"calculate": "0", "as": "y"}], "mark": {"type": "text", "align": "left", "baseline": "top", "dx": 3, "dy": 3, "fontSize": 12, "font": "Liberation Sans", "color": "#333333"}, "encoding": {"text": {"field": "t"}}},
 {"data": {"name": "ang"}, "transform": [{"calculate": "1.045*sin(datum.a*PI/180)", "as": "x"}, {"calculate": "1.045*cos(datum.a*PI/180)", "as": "y"}, {"calculate": "(datum.a+180)%360", "as": "rot"}], "mark": {"type": "text", "fontSize": 11, "font": "Liberation Sans", "color": "#333333", "align": "center", "baseline": "middle"}, "encoding": {"text": {"field": "a", "type": "nominal"}, "angle": {"field": "rot", "type": "quantitative", "scale": null}}},
 {"data": {"name": "curves"}, "transform": [{"filter": "datum.p=='YZ'"}, {"calculate": "max(0,(datum.g+50)/45)", "as": "r"}, {"calculate": "datum.r*sin(datum.a*PI/180)", "as": "x"}, {"calculate": "datum.r*cos(datum.a*PI/180)", "as": "y"}], "mark": {"type": "line", "interpolate": "cardinal-closed", "strokeWidth": 1.5}, "encoding": {"color": {"field": "f", "type": "nominal", "scale": {"domain": ["1602", "1575", "1561"], "range": ["#e4405a", "#3636d2", "#22204e"]}, "legend": null}, "order": {"field": "a", "type": "quantitative"}}},
 {"data": {"values": [{"t": "YZ-PLANE"}]}, "transform": [{"calculate": "1.468", "as": "x"}, {"calculate": "0.968", "as": "y"}], "mark": {"type": "text", "font": "Liberation Serif", "fontSize": 21, "color": "#333333", "align": "center", "baseline": "middle"}, "encoding": {"text": {"field": "t"}}},
 {"data": {"name": "leg"}, "transform": [{"calculate": "1.329", "as": "x"}, {"calculate": "1.712", "as": "x2"}, {"calculate": "0.802-0.163*datum.k", "as": "y"}, {"calculate": "0.684-0.163*datum.k", "as": "y2"}], "mark": {"type": "rect", "cornerRadius": 4, "strokeWidth": 1.3}, "encoding": {"x2": {"field": "x2"}, "y2": {"field": "y2"}, "fill": {"field": "f", "type": "nominal", "scale": {"domain": ["1602", "1561", "1575"], "range": ["#fbdcdc", "#dadada", "#dcdcf6"]}, "legend": null}, "stroke": {"field": "f", "type": "nominal", "scale": {"domain": ["1602", "1561", "1575"], "range": ["#e49a9a", "#777777", "#8c8ce0"]}, "legend": null}}},
 {"data": {"name": "leg"}, "transform": [{"calculate": "1.355", "as": "x"}, {"calculate": "0.743-0.163*datum.k", "as": "y"}], "mark": {"type": "text", "align": "left", "baseline": "middle", "font": "Liberation Sans", "fontWeight": "bold", "fontSize": 13, "color": "#16166e"}, "encoding": {"text": {"field": "t"}}}
]
}
]
}
